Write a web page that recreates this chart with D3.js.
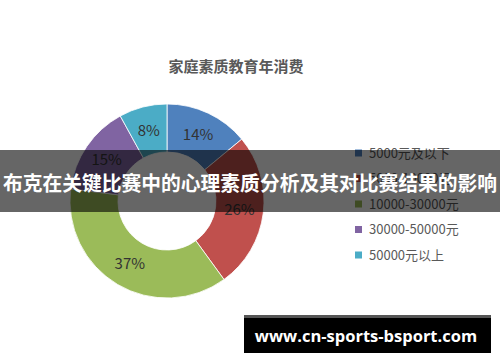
<!DOCTYPE html>
<html>
<head>
<meta charset="utf-8">
<script src="https://cdn.jsdelivr.net/npm/d3@7"></script>
<style>
  body { margin: 0; background: #fff; }
  svg { display: block; font-family: "Noto Sans CJK SC", "Noto Sans", sans-serif; }
</style>
</head>
<body>
<svg id="chart" width="500" height="362"></svg>
<script>
// chart data
const chartTitle = "家庭素质教育年消费";
const categories = ["5000元及以下", "5000-10000元", "10000-30000元", "30000-50000元", "50000元以上"];
const shares = [14, 26, 37, 15, 8];
const colors = ["#4F81BD", "#C0504D", "#9BBB59", "#8064A2", "#4BACC6"];
const bannerText = "布克在关键比赛中的心理素质分析及其对比赛结果的影响";
const siteText = "www.cn-sports-bsport.com";

const svg = d3.select("#chart");

// title
svg.append("text")
    .attr("x", 236)
    .attr("y", 67)
    .attr("dy", "0.35em")
    .attr("text-anchor", "middle")
    .attr("fill", "#595959")
    .style("font-size", "15px")
    .style("font-weight", "bold")
    .text(chartTitle);

// donut
const center = {x: 167, y: 201};
const outerR = 97, innerR = 49;

const pie = d3.pie().sort(null).value(d => d);
const arc = d3.arc().innerRadius(innerR).outerRadius(outerR);
const labelArc = d3.arc().innerRadius((innerR + outerR) / 2).outerRadius((innerR + outerR) / 2);

const donut = svg.append("g")
    .attr("transform", `translate(${center.x},${center.y})`);

const arcs = pie(shares);

donut.selectAll("path")
    .data(arcs)
    .join("path")
        .attr("d", arc)
        .attr("fill", (d, i) => colors[i])
        .attr("stroke", "#fff")
        .attr("stroke-width", 0.8);

donut.selectAll("text")
    .data(arcs)
    .join("text")
        .attr("transform", d => `translate(${labelArc.centroid(d)})`)
        .attr("text-anchor", "middle")
        .attr("dy", "0.35em")
        .attr("fill", "#333")
        .style("font-size", "15px")
        .text(d => d.data + "%");

// legend
const legendY = d3.scalePoint()
    .domain(categories)
    .range([153, 255]);

const legend = svg.append("g");
legend.selectAll("rect")
    .data(categories)
    .join("rect")
        .attr("x", 355)
        .attr("y", d => legendY(d) - 3.5)
        .attr("width", 7)
        .attr("height", 7)
        .attr("fill", (d, i) => colors[i]);

legend.selectAll("text")
    .data(categories)
    .join("text")
        .attr("x", 369)
        .attr("y", d => legendY(d))
        .attr("dy", "0.35em")
        .attr("fill", "#595959")
        .style("font-size", "13px")
        .text(d => d);

// overlay banner
svg.append("rect")
    .attr("x", 0)
    .attr("y", 150)
    .attr("width", 500)
    .attr("height", 62)
    .attr("fill", "#000")
    .attr("fill-opacity", 0.6);

svg.append("text")
    .attr("x", 3)
    .attr("y", 184)
    .attr("dy", "0.35em")
    .attr("fill", "#fff")
    .attr("textLength", 494)
    .attr("lengthAdjust", "spacingAndGlyphs")
    .style("font-size", "20px")
    .style("font-weight", "bold")
    .text(bannerText);

// site box
svg.append("rect")
    .attr("x", 244)
    .attr("y", 315)
    .attr("width", 247)
    .attr("height", 38)
    .attr("fill", "#000");

svg.append("rect")
    .attr("x", 244)
    .attr("y", 315)
    .attr("width", 247)
    .attr("height", 3)
    .attr("fill", "#555");

svg.append("text")
    .attr("x", 366)
    .attr("y", 336)
    .attr("dy", "0.35em")
    .attr("text-anchor", "middle")
    .attr("fill", "#fff")
    .style("font-family", "'Open Sans', sans-serif")
    .style("font-size", "16.5px")
    .style("font-weight", "bold")
    .text(siteText);
</script>
</body>
</html>
